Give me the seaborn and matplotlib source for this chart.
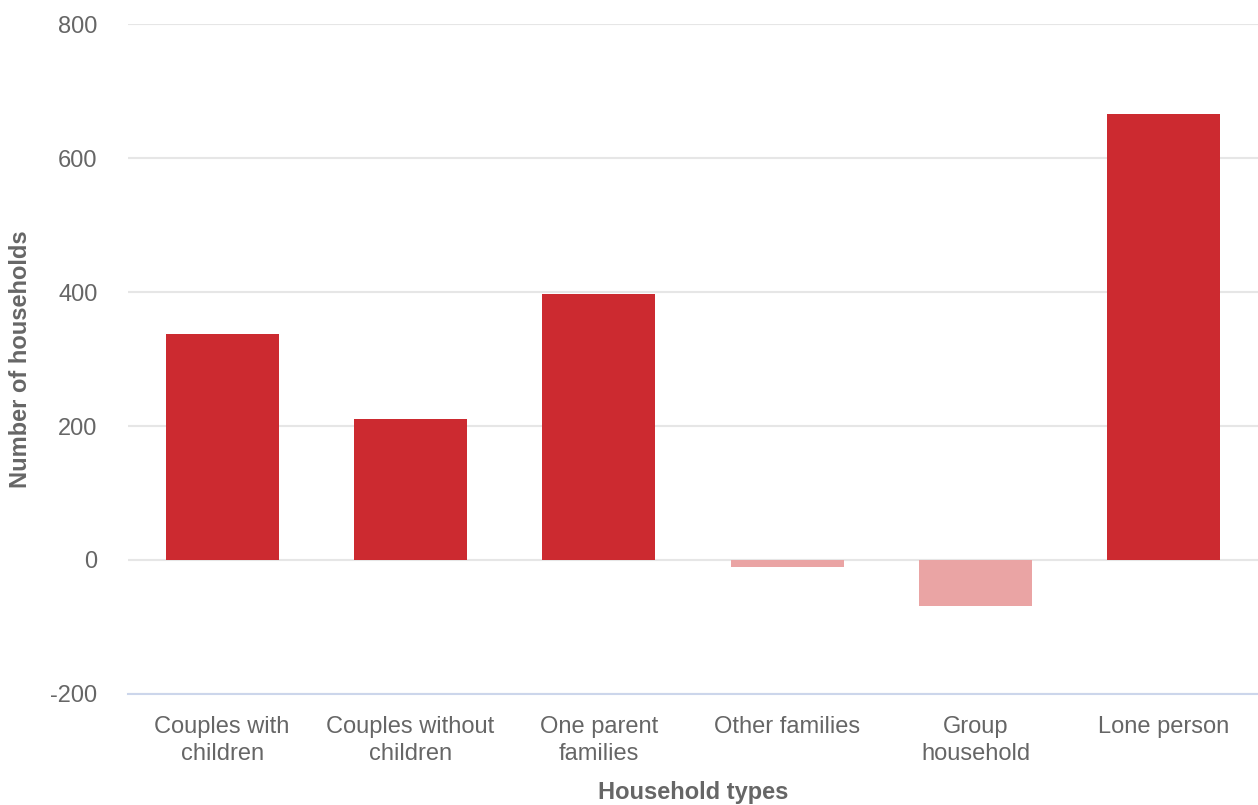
import matplotlib
matplotlib.use("Agg")
import matplotlib.pyplot as plt
import seaborn as sns
import pandas as pd

# Household type change data
categories = ["Couples with\nchildren", "Couples without\nchildren", "One parent\nfamilies",
              "Other families", "Group\nhousehold", "Lone person"]
values = [337, 211, 397, -11, -68, 666]
y_ticks = [-200, 0, 200, 400, 600, 800]

POS_COLOR = "#cc2a30"
NEG_COLOR = "#eaa4a4"
TEXT_COLOR = "#666666"

sns.set_style("white")
plt.rcParams['font.family'] = ['Liberation Sans', 'DejaVu Sans']

df = pd.DataFrame({"type": categories, "households": values})
palette = [POS_COLOR if v >= 0 else NEG_COLOR for v in values]

fig = plt.figure(figsize=(12.58, 8.05), dpi=100)
ax = fig.add_axes([0.1017, 0.138, 0.8983, 0.832])

sns.barplot(data=df, x="type", y="households", hue="type", palette=palette,
            width=0.6, legend=False, ax=ax, saturation=1, linewidth=0, zorder=3)

ax.set_ylim(-200, 800)
ax.set_xlim(-0.5, len(categories) - 0.5)
ax.set_yticks(y_ticks)
ax.set_yticklabels([str(t) for t in y_ticks])
ax.yaxis.grid(True, color="#e6e6e6", linewidth=1.5, zorder=0)
ax.xaxis.grid(False)

for side in ["top", "right", "left"]:
    ax.spines[side].set_visible(False)
ax.spines["bottom"].set_color("#ccd6eb")
ax.spines["bottom"].set_linewidth(1.5)

ax.tick_params(axis="y", length=0, pad=22, labelsize=17, labelcolor=TEXT_COLOR)
ax.tick_params(axis="x", length=14, width=1.2, color="#ccd6eb", pad=2,
               labelsize=17, labelcolor=TEXT_COLOR, direction="out")
for lbl in ax.get_xticklabels():
    lbl.set_linespacing(1.3)

ax.set_xlabel("Household types", fontsize=17, fontweight="bold", color=TEXT_COLOR)
ax.set_ylabel("Number of households", fontsize=17, fontweight="bold", color=TEXT_COLOR)
ax.yaxis.set_label_coords(-0.085, 0.5)
ax.xaxis.set_label_coords(0.5, -0.13)

plt.savefig("out.png", dpi=100)
